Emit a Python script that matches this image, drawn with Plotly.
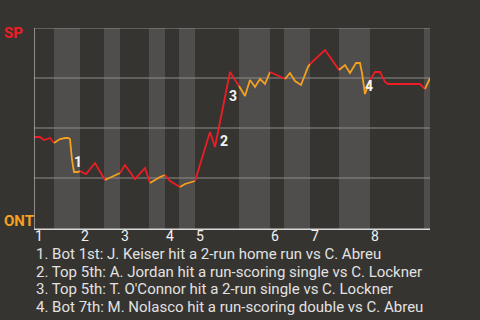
import plotly.graph_objects as go

# Half-inning start positions (play index) and end of game
half_starts = [0, 4, 9.2, 14, 17.2, 23, 26.2, 29, 32.2, 41, 47.2, 50, 55.2, 61, 67.2, 78]
game_end = 79.2
inning_labels = ["1", "2", "3", "4", "5", "6", "7", "8"]

# Win probability for SP (%) by half inning
halves_x = [
    [0, 1.2, 2, 3.2, 4],
    [4, 5.2, 6.2, 6.8, 7.2, 7.6, 8, 8.8, 9.2],
    [9.2, 10.4, 12.2, 14.2],
    [14.2, 15.4, 16.8, 17.2],
    [17.2, 18.2, 20.2, 22.2, 23.2],
    [23.2, 24.2, 25.2, 26.2],
    [26.2, 27.2, 29.2],
    [29.2, 30.2, 32.2],
    [32.2, 33.2, 34.2, 35.2, 36.2, 37.2, 38.2, 39.2, 41],
    [41, 42.2, 43.2, 44.2, 45.2, 46.2, 47.2],
    [47.2, 49.2, 50.2],
    [50.2, 51.2, 52.2, 53.4, 54.8, 55.2],
    [55.2, 56.2, 57.2, 58.2, 59.2, 60.2, 61],
    [61, 62.2, 63.2, 64.4, 65.2, 65.6, 66.2, 66.6, 67.2],
    [67.2, 68.2, 69.2, 70.2, 70.8, 77.2, 78.2],
    [78.2, 79.2],
]
halves_y = [
    [45.5, 45.5, 44, 45, 42.5],
    [42.5, 44.5, 45, 45, 44.5, 34, 28, 28, 28.5],
    [28.5, 27, 32.5, 24],
    [24, 25.5, 27, 27.5],
    [27.5, 31.5, 24.5, 30, 22.5],
    [22.5, 24, 25.5, 26.5],
    [26.5, 23.5, 20.5],
    [20.5, 22, 23.5],
    [23.5, 31.5, 39.5, 48, 40.5, 53, 65, 78, 71],
    [71, 66, 74, 70.5, 74.5, 72, 78],
    [78, 75.5, 74.5],
    [74.5, 77.5, 73.5, 71.5, 80.5, 82],
    [82, 84.5, 86.5, 89, 85.5, 81.5, 79],
    [79, 81.5, 77.5, 82.5, 82.5, 77.5, 67, 70, 74],
    [74, 78, 78, 73, 72, 72, 69.5],
    [69.5, 75],
]

# Key events
event_x = [8.7, 37.9, 39.8, 66.9]
event_y = [33, 43.75, 66, 71.25]
event_text = [
    "1. Bot 1st: J. Keiser hit a 2-run home run vs C. Abreu",
    "2. Top 5th: A. Jordan hit a run-scoring single vs C. Lockner",
    "3. Top 5th: T. O'Connor hit a 2-run single vs C. Lockner",
    "4. Bot 7th: M. Nolasco hit a run-scoring double vs C. Abreu",
]

gridlines = [25, 50, 75, 100]

BG = "#363430"
BAND = "#4f4e4c"
RED = "#ee1c25"
ORANGE = "#f5a01e"
FONT = "Roboto"

fig = go.Figure()

for i, (xs, ys) in enumerate(zip(halves_x, halves_y)):
    fig.add_trace(go.Scatter(
        x=xs, y=ys, mode="lines",
        line=dict(color=RED if i % 2 == 0 else ORANGE, width=1.8),
        hoverinfo="skip", showlegend=False,
    ))

shapes = []
ends = half_starts[1:] + [game_end]
for i, (s, e) in enumerate(zip(half_starts, ends)):
    if i % 2 == 1:
        shapes.append(dict(type="rect", xref="x", yref="y", x0=s, x1=e, y0=-1, y1=100,
                           fillcolor=BAND, line=dict(width=0), layer="below"))
for g in gridlines:
    shapes.append(dict(type="line", xref="x", yref="y", x0=0, x1=game_end, y0=g, y1=g,
                       line=dict(color="#8e8c8a", width=1), layer="below"))
shapes.append(dict(type="line", xref="x", yref="y", x0=0, x1=0, y0=-1, y1=100,
                   line=dict(color="#c8c8c8", width=1.2)))
shapes.append(dict(type="line", xref="x", yref="y", x0=0, x1=game_end, y0=-0.6, y1=-0.6,
                   line=dict(color="#d8d8d8", width=1.5)))

annotations = []
annotations.append(dict(text="<b>SP</b>", xref="paper", yref="paper", x=-0.0808, y=0.973,
                        xanchor="left", yanchor="middle", showarrow=False,
                        font=dict(family=FONT, size=15, color=RED)))
annotations.append(dict(text="<b>ONT</b>", xref="paper", yref="paper", x=-0.0808, y=0.045,
                        xanchor="left", yanchor="middle", showarrow=False,
                        font=dict(family=FONT, size=15, color=ORANGE)))
for k, lab in enumerate(inning_labels):
    annotations.append(dict(text=lab, xref="x", yref="paper", x=half_starts[2 * k], y=-0.0275,
                            xanchor="left", yanchor="middle", showarrow=False, borderpad=0,
                            font=dict(family=FONT, size=14, color="#f2f2f2")))
for k, (ex, ey) in enumerate(zip(event_x, event_y)):
    annotations.append(dict(text="<b>%d</b>" % (k + 1), xref="x", yref="y", x=ex, y=ey,
                            xanchor="center", yanchor="middle", showarrow=False,
                            font=dict(family=FONT, size=14, color="#f4f4f4")))
legend_y = [-0.1210, -0.2074, -0.2941, -0.3797]
for t, ly in zip(event_text, legend_y):
    annotations.append(dict(text=t, xref="paper", yref="paper", x=0.003, y=ly,
                            xanchor="left", yanchor="middle", showarrow=False, borderpad=0,
                            font=dict(family=FONT, size=15, color="#e2e2e2")))

fig.update_layout(
    width=480, height=320,
    margin=dict(l=34, r=50, t=28, b=90),
    paper_bgcolor=BG, plot_bgcolor=BG,
    xaxis=dict(range=[0, game_end], visible=False, fixedrange=True),
    yaxis=dict(range=[-1, 100], visible=False, fixedrange=True),
    shapes=shapes, annotations=annotations,
    showlegend=False,
)

fig.write_html("out.html", config={"displayModeBar": False})
